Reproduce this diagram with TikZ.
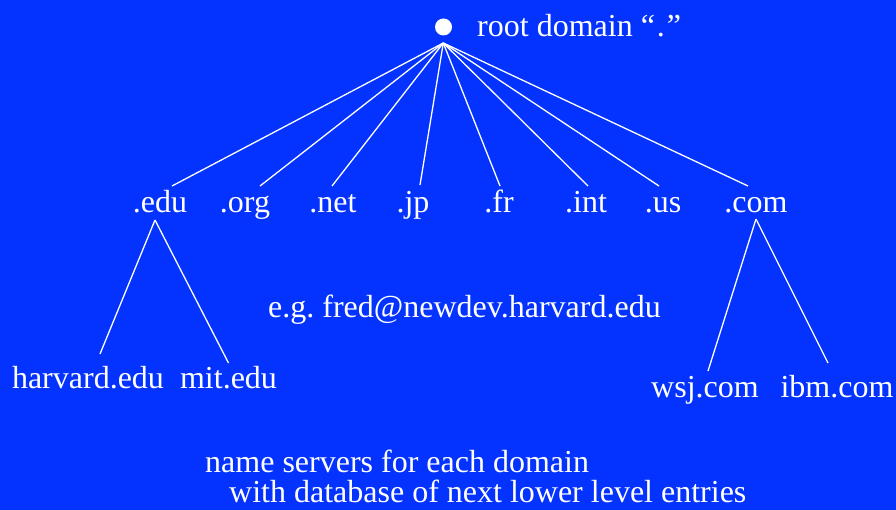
\documentclass[tikz,border=0pt]{standalone}
\usepackage{fontspec}
\setmainfont{Liberation Serif}
\definecolor{bg}{RGB}{4,51,255}
\begin{document}
\frenchspacing
\begin{tikzpicture}[x=1pt,y=-1pt,
  font=\fontsize{32}{36}\selectfont,
  lbl/.style={text=white, inner sep=0pt, anchor=base},
  link/.style={draw=white, line width=1.3pt}]
\fill[bg] (0,0) rectangle (896,510);
\useasboundingbox (0,0) rectangle (896,510);
% root
\node[circle, fill=white, minimum size=17pt, inner sep=0pt] (root) at (443.5,27) {};
\coordinate (apex) at (443.3,43);
\node[lbl, anchor=base west] (rootlbl) at (477,37) {root domain “\kern2pt.\kern2pt”};
% top level domains
\node[lbl] (edu) at (160,213) {.edu};
\node[lbl] (org) at (245,213) {.org};
\node[lbl] (net) at (333,213) {.net};
\node[lbl] (jp)  at (413,213) {.jp};
\node[lbl] (fr)  at (499,213) {.fr};
\node[lbl] (int) at (586,213) {.int};
\node[lbl] (us)  at (663,213) {.us};
\node[lbl] (com) at (756,213) {.com};
\draw[link] (apex) -- ([xshift=12pt,yshift=27pt]edu.base);
\draw[link] (apex) -- ([xshift=15pt,yshift=27pt]org.base);
\draw[link] (apex) -- ([xshift=-1pt,yshift=27pt]net.base);
\draw[link] (apex) -- ([xshift=7pt,yshift=28pt]jp.base);
\draw[link] (apex) -- ([xshift=1pt,yshift=27pt]fr.base);
\draw[link] (apex) -- ([xshift=2pt,yshift=27pt]int.base);
\draw[link] (apex) -- ([xshift=-4pt,yshift=27pt]us.base);
\draw[link] (apex) -- ([xshift=-8pt,yshift=27pt]com.base);
% second level
\node[lbl] (harvard) at (88,388) {harvard.edu};
\node[lbl] (mit) at (228.5,388) {mit.edu};
\node[lbl] (wsj) at (705,397) {wsj.com};
\node[lbl] (ibm) at (837,397) {ibm.com};
\draw[link] ([xshift=-5pt,yshift=-7pt]edu.base) -- ([xshift=12pt,yshift=34pt]harvard.base);
\draw[link] ([xshift=-5pt,yshift=-7pt]edu.base) -- ([yshift=25pt]mit.base);
\draw[link] ([yshift=-6pt]com.base) -- ([xshift=3pt,yshift=26pt]wsj.base);
\draw[link] ([yshift=-6pt]com.base) -- ([xshift=-9pt,yshift=34pt]ibm.base);
% notes
\node[lbl, anchor=base west] (eg) at (268,317) {e.g. fred@newdev.harvard.edu};
\node[lbl, anchor=base west] (ns1) at (205,472) {name servers for each domain};
\node[lbl, anchor=base west] (ns2) at (229,502) {with database of next lower level entries};
\end{tikzpicture}
\end{document}
